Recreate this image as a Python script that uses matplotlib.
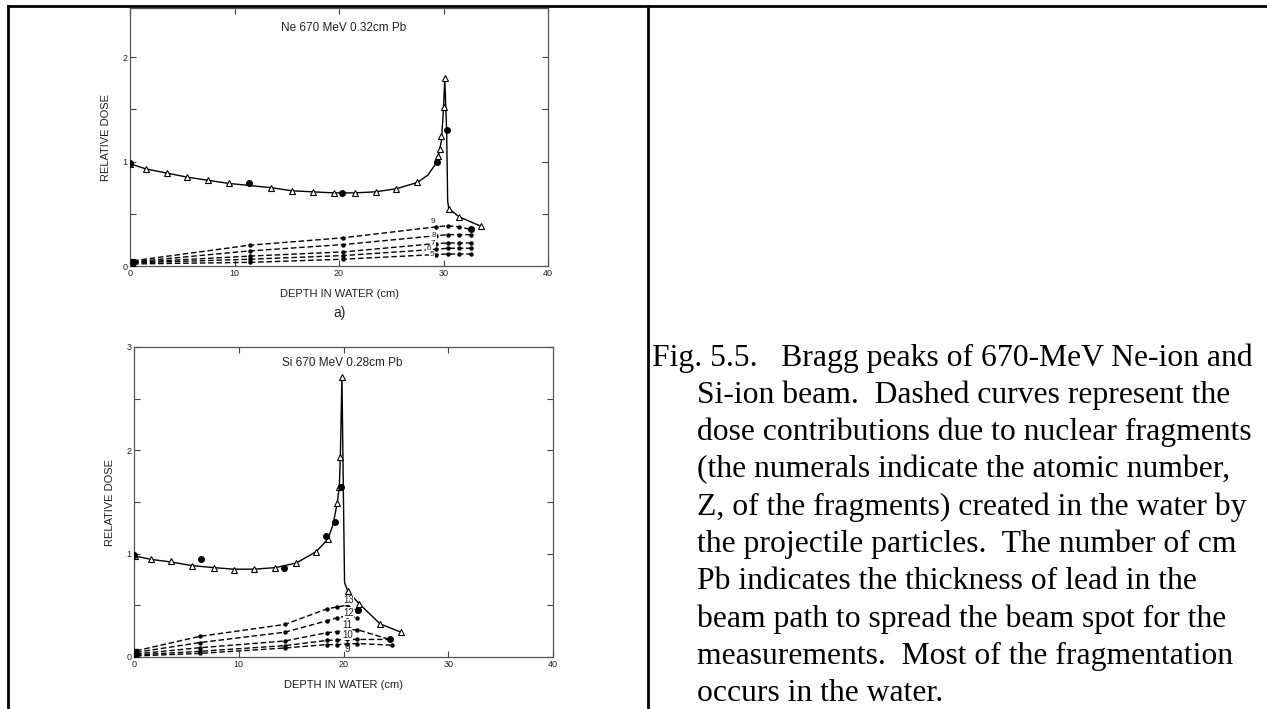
import matplotlib.pyplot as plt
from matplotlib.lines import Line2D
from matplotlib.ticker import MultipleLocator

# ---- Ne 670 MeV 0.32cm Pb ----
ne_tri_x = [0, 1.5, 3.5, 5.5, 7.5, 9.5, 13.5, 15.5, 17.5, 19.5, 21.5, 23.5, 25.5, 27.5,
            29.5, 29.7, 29.8, 30.0, 30.12, 30.5, 31.5, 33.6]
ne_tri_y = [0.98, 0.93, 0.89, 0.85, 0.82, 0.79, 0.75, 0.72, 0.71, 0.70, 0.70, 0.71, 0.74, 0.80,
            1.05, 1.12, 1.24, 1.52, 1.80, 0.55, 0.47, 0.38]
ne_dot_x = [0, 11.4, 20.3, 29.35, 30.3, 32.6]
ne_dot_y = [0.99, 0.79, 0.70, 1.00, 1.30, 0.35]
ne_curve_x = [0, 1.5, 3.5, 5.5, 7.5, 9.5, 11.5, 13.5, 15.5, 17.5, 19.5, 21.5, 23.5, 25.5, 27.5,
              28.5, 29.2, 29.5, 29.8, 30.0, 30.12, 30.3, 30.4, 30.5, 31.5, 33.6]
ne_curve_y = [0.98, 0.93, 0.89, 0.85, 0.82, 0.79, 0.77, 0.75, 0.72, 0.71, 0.70, 0.70, 0.71, 0.74, 0.80,
              0.87, 0.97, 1.05, 1.20, 1.50, 1.80, 1.30, 0.62, 0.55, 0.47, 0.38]
ne_frag_x = [0.3, 11.5, 20.4, 29.3, 30.4, 31.5, 32.6]
ne_z9 = [0.05, 0.20, 0.27, 0.375, 0.385, 0.375, 0.35]
ne_z8 = [0.04, 0.145, 0.205, 0.29, 0.30, 0.30, 0.30]
ne_z7 = [0.035, 0.095, 0.135, 0.215, 0.22, 0.22, 0.22]
ne_z6 = [0.03, 0.065, 0.10, 0.16, 0.17, 0.17, 0.17]
ne_z5 = [0.02, 0.035, 0.065, 0.11, 0.115, 0.115, 0.115]
ne_labels = ['9', '8', '7', '6', '5']
ne_label_x = [29.0, 29.1, 29.0, 28.6, 28.9]
ne_label_y = [0.43, 0.295, 0.218, 0.165, 0.112]

# ---- Si 670 MeV 0.28cm Pb ----
si_tri_x = [0.1, 1.6, 3.5, 5.5, 7.6, 9.5, 11.5, 13.5, 15.5, 17.4, 18.5, 19.4, 19.6, 19.7, 19.85,
            20.4, 21.5, 23.5, 25.5]
si_tri_y = [0.98, 0.945, 0.925, 0.88, 0.86, 0.845, 0.85, 0.865, 0.91, 1.02, 1.14, 1.49, 1.645, 1.94, 2.71,
            0.64, 0.515, 0.32, 0.24]
si_dot_x = [0, 6.4, 14.3, 18.3, 19.2, 19.75, 21.35, 24.4]
si_dot_y = [0.99, 0.945, 0.863, 1.17, 1.31, 1.645, 0.456, 0.176]
si_curve_x = [0, 1.6, 3.5, 5.5, 7.6, 9.5, 11.5, 13.5, 15.5, 17.4, 18.5, 19.0, 19.4, 19.6, 19.7, 19.85,
              20.0, 20.1, 20.4, 21.5, 23.5, 25.5]
si_curve_y = [0.98, 0.945, 0.92, 0.885, 0.865, 0.85, 0.85, 0.865, 0.91, 1.02, 1.14, 1.28, 1.49, 1.65, 1.94, 2.71,
              1.50, 0.72, 0.64, 0.515, 0.32, 0.24]
si_frag_x = [0.2, 6.3, 14.4, 18.4, 19.4, 20.3, 21.3]
si_z13 = [0.06, 0.20, 0.315, 0.465, 0.485, 0.50, 0.45]
si_z12 = [0.045, 0.14, 0.24, 0.35, 0.38, 0.395, 0.38]
si_z11 = [0.03, 0.09, 0.155, 0.235, 0.245, 0.255, 0.265, 0.17]
si_z10 = [0.02, 0.055, 0.11, 0.16, 0.165, 0.17, 0.17, 0.17]
si_z9 = [0.01, 0.035, 0.087, 0.12, 0.12, 0.125, 0.13, 0.115]
si_frag_end_x = [24.4, 24.4, 24.6]
si_labels = ['13', '12', '11', '10', '9']
si_label_x = [20.45, 20.45, 20.35, 20.4, 20.35]
si_label_y = [0.55, 0.43, 0.31, 0.215, 0.074]

caption = [
    "Fig. 5.5.   Bragg peaks of 670-MeV Ne-ion and",
    "Si-ion beam.  Dashed curves represent the",
    "dose contributions due to nuclear fragments",
    "(the numerals indicate the atomic number,",
    "Z, of the fragments) created in the water by",
    "the projectile particles.  The number of cm",
    "Pb indicates the thickness of lead in the",
    "beam path to spread the beam spot for the",
    "measurements.  Most of the fragmentation",
    "occurs in the water.",
]

W, H = 1267, 709
fig = plt.figure(figsize=(W / 100, H / 100), dpi=100)
plt.rcParams['font.family'] = ['Liberation Sans', 'DejaVu Sans']
ink = '#222222'


def style_axes(ax, ymax):
    ax.set_xlim(0, 40)
    ax.set_ylim(0, ymax)
    ax.xaxis.set_major_locator(MultipleLocator(10))
    ax.yaxis.set_major_locator(MultipleLocator(1))
    ax.yaxis.set_minor_locator(MultipleLocator(0.5))
    ax.tick_params(which='both', direction='in', length=4, width=0.8, top=True, right=True,
                   labelsize=6.5, pad=2, color='#444444', labelcolor=ink)
    for s in ax.spines.values():
        s.set_color('#555555')
        s.set_linewidth(0.9)


def draw_frag(ax, xs, ys):
    ax.plot(xs, ys, color='black', lw=1.0, ls=(0, (4, 2)), marker='o', ms=2.2, zorder=2)
    ax.plot(xs[0], ys[0], 's', color='black', ms=3.5, zorder=3)


# top panel
ax1 = fig.add_axes([130 / W, 1 - 266 / H, 418 / W, 258 / H])
style_axes(ax1, 2.47)
ax1.plot(ne_curve_x, ne_curve_y, color='black', lw=1.0, zorder=3)
ax1.plot(ne_tri_x, ne_tri_y, '^', mfc='white', mec='black', mew=0.8, ms=5, zorder=4)
ax1.plot(ne_dot_x, ne_dot_y, 'o', color='black', ms=4, zorder=5)
for ys in [ne_z9, ne_z8, ne_z7, ne_z6, ne_z5]:
    draw_frag(ax1, ne_frag_x, ys)
for i, lab in enumerate(ne_labels):
    bb = None if i == 0 else dict(facecolor='white', edgecolor='none', pad=0.1)
    ax1.text(ne_label_x[i], ne_label_y[i], lab, fontsize=6, ha='center', va='center',
             color=ink, bbox=bb, zorder=6)
ax1.set_xlabel('DEPTH IN WATER (cm)', fontsize=8, color=ink, labelpad=8)
ax1.set_ylabel('RELATIVE DOSE', fontsize=8, color=ink, labelpad=8)
fig.text(344 / W, 1 - 28 / H, 'Ne 670 MeV 0.32cm Pb', ha='center', va='center',
         fontsize=8.5, color=ink)
fig.text(340 / W, 1 - 313 / H, 'a)', fontsize=10, ha='center', va='center', color=ink)

# bottom panel
ax2 = fig.add_axes([134 / W, 1 - 657 / H, 419 / W, 310 / H])
style_axes(ax2, 3)
ax2.plot(si_curve_x, si_curve_y, color='black', lw=1.0, zorder=3)
ax2.plot(si_tri_x, si_tri_y, '^', mfc='white', mec='black', mew=0.8, ms=5, zorder=4)
ax2.plot(si_dot_x, si_dot_y, 'o', color='black', ms=4, zorder=5)
draw_frag(ax2, si_frag_x, si_z13)
draw_frag(ax2, si_frag_x, si_z12)
draw_frag(ax2, si_frag_x + [si_frag_end_x[0]], si_z11)
draw_frag(ax2, si_frag_x + [si_frag_end_x[1]], si_z10)
draw_frag(ax2, si_frag_x + [si_frag_end_x[2]], si_z9)
for i, lab in enumerate(si_labels):
    bb = None if i == 4 else dict(facecolor='white', edgecolor='none', pad=0.1)
    ax2.text(si_label_x[i], si_label_y[i], lab, fontsize=7, ha='center', va='center',
             color=ink, bbox=bb, zorder=6)
ax2.set_xlabel('DEPTH IN WATER (cm)', fontsize=8, color=ink, labelpad=8)
ax2.set_ylabel('RELATIVE DOSE', fontsize=8, color=ink, labelpad=8)
fig.text(342 / W, 1 - 363 / H, 'Si 670 MeV 0.28cm Pb', ha='center', va='center',
         fontsize=8.5, color=ink)

# caption
for i, line in enumerate(caption):
    x = 652 if i == 0 else 697
    fig.text(x / W, 1 - (358 + 37.3 * i) / H, line, fontsize=22.8, family='Liberation Serif',
             ha='left', va='center', color='black')

# table borders
lw = 2
fig.add_artist(Line2D([8 / W, 1], [1 - 6 / H, 1 - 6 / H], color='black', lw=lw, transform=fig.transFigure))
fig.add_artist(Line2D([8 / W, 8 / W], [0, 1 - 6 / H], color='black', lw=lw, transform=fig.transFigure))
fig.add_artist(Line2D([648 / W, 648 / W], [0, 1 - 6 / H], color='black', lw=lw, transform=fig.transFigure))

fig.savefig('out.png', dpi=100)
